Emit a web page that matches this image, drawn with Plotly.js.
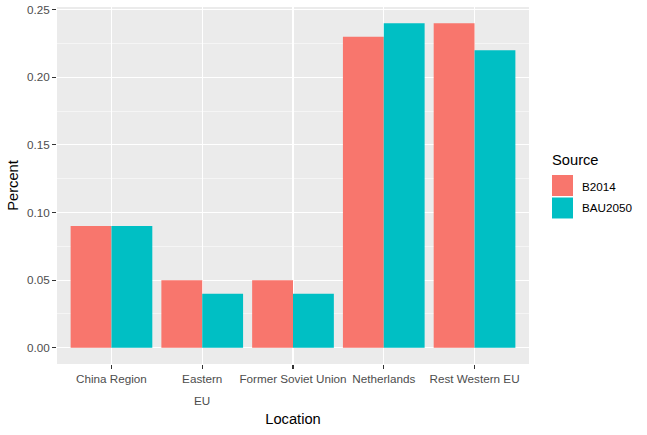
<!DOCTYPE html>
<html><head><meta charset="utf-8">
<script src="https://cdn.plot.ly/plotly-3.0.1.min.js"></script>
<style>body{margin:0;background:#fff}#chart{width:647px;height:435px}</style>
</head><body><div id="chart"></div>
<script>
const categories = ["China Region", "Eastern EU", "Former Soviet Union", "Netherlands", "Rest Western EU"];
const tickLabels = ["China Region", "Eastern", "Former Soviet Union", "Netherlands", "Rest Western EU"];
const b2014 = [0.09, 0.05, 0.05, 0.23, 0.24];
const bau2050 = [0.09, 0.04, 0.04, 0.24, 0.22];
const seriesNames = ["B2014", "BAU2050"];
const legendTitle = "Source";
const colors = ["#F8766D", "#00BFC4"];

const traces = [
  {type:'bar', x:categories, y:b2014, name:seriesNames[0], marker:{color:colors[0]}, showlegend:false},
  {type:'bar', x:categories, y:bau2050, name:seriesNames[1], marker:{color:colors[1]}, showlegend:false}
];

// custom ggplot-style legend (keys + labels)
const keyX0 = 1.0487, keyX1 = 1.0932;
const keyYs = [[0.4706, 0.5294], [0.4076, 0.4664]];
const labelYs = [0.4972, 0.437];
const shapes = keyYs.map((yy, i) => ({
  type:'rect', xref:'paper', yref:'paper', x0:keyX0, x1:keyX1, y0:yy[0], y1:yy[1],
  fillcolor:colors[i], line:{width:0}
}));
const annotations = [
  {text:'EU', x:categories[1], xref:'x', y:0, yref:'paper', yshift:-45, showarrow:false, font:{size:11.7, color:'#4D4D4D'}},
  {text:legendTitle, x:keyX0, xref:'paper', y:0.5714, yref:'paper', xanchor:'left', yanchor:'middle', xshift:-2, showarrow:false, font:{size:14.7, color:'#000'}}
].concat(seriesNames.map((n, i) => ({
  text:n, x:1.1123, xref:'paper', y:labelYs[i], yref:'paper', xanchor:'left', yanchor:'middle', xshift:-2, showarrow:false, font:{size:11.7, color:'#000'}
})));

const layout = {
  width:647, height:435,
  margin:{l:57, r:118, t:7, b:71},
  paper_bgcolor:'#ffffff', plot_bgcolor:'#EBEBEB',
  font:{family:'Liberation Sans, Arial, sans-serif', color:'#000'},
  barmode:'group', bargap:0.1, bargroupgap:0,
  showlegend:false,
  xaxis:{
    type:'category', range:[-0.6, 4.6],
    tickmode:'array', tickvals:categories, ticktext:tickLabels,
    ticks:'outside', ticklen:4, tickcolor:'#333333', tickwidth:1.1,
    showgrid:true, gridcolor:'#ffffff', gridwidth:1.1,
    showline:false, zeroline:false,
    tickfont:{size:11.7, color:'#4D4D4D'},
    title:{text:'Location', font:{size:14.7, color:'#000'}, standoff:29}
  },
  yaxis:{
    range:[-0.012, 0.252],
    tickvals:[0,0.05,0.10,0.15,0.20,0.25], tickformat:'.2f',
    ticks:'outside', ticklen:4, tickcolor:'#333333', tickwidth:1.1,
    showgrid:true, gridcolor:'#ffffff', gridwidth:1.1,
    minor:{tickvals:[0.025,0.075,0.125,0.175,0.225], showgrid:true, gridcolor:'#ffffff', gridwidth:0.5, ticks:''},
    showline:false, zeroline:false,
    tickfont:{size:11.7, color:'#4D4D4D'},
    title:{text:'Percent', font:{size:14.7, color:'#000'}, standoff:4}
  },
  shapes:shapes,
  annotations:annotations
};
Plotly.newPlot('chart', traces, layout, {displayModeBar:false, staticPlot:true});
</script></body></html>
